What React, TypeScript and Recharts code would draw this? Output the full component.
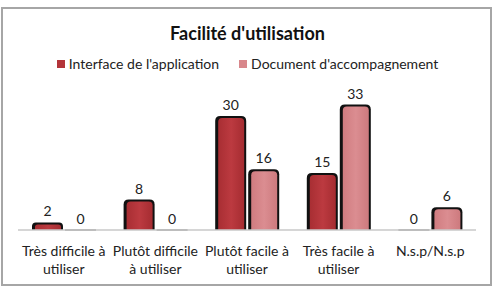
import React from 'react';
import { BarChart, Bar, XAxis, YAxis, LabelList } from 'recharts';

const categories = [
  'Très difficile à\nutiliser',
  'Plutôt difficile\nà utiliser',
  'Plutôt facile à\nutiliser',
  'Très facile à\nutiliser',
  'N.s.p/N.s.p',
];
const interfaceValues = [2, 8, 30, 15, 0];
const documentValues = [0, 0, 16, 33, 6];
const seriesNames = ["Interface de l'application", "Document d'accompagnement"];
const title = "Facilité d'utilisation";

const data = categories.map((c, i) => ({
  cat: c,
  iface: interfaceValues[i],
  doc: documentValues[i],
}));

const FONT = 'Lato, "Open Sans", sans-serif';
const RED = '#B3343A';
const PINK = '#D8878B';

const makeShape = (gradId: string) => (props: any) => {
  const { x, y, width, height } = props;
  if (!height || height <= 0) {
    return <rect x={x} y={y - 1} width={width} height={2} fill="#9a9a9a" />;
  }
  const r = Math.min(5, height / 2);
  const outer = `M${x},${y + height} L${x},${y + r} Q${x},${y} ${x + r},${y} L${x + width - r},${y} Q${x + width},${y} ${x + width},${y + r} L${x + width},${y + height} Z`;
  const ix = x + 3;
  const iw = width - 5;
  const iy = y + 2;
  const ih = height - 2;
  const ir = Math.min(4, ih / 2);
  const inner = `M${ix},${iy + ih} L${ix},${iy + ir} Q${ix},${iy} ${ix + ir},${iy} L${ix + iw - ir},${iy} Q${ix + iw},${iy} ${ix + iw},${iy + ir} L${ix + iw},${iy + ih} Z`;
  return (
    <g>
      <path d={outer} fill="#111" />
      <path d={inner} fill={`url(#${gradId})`} />
    </g>
  );
};

const Tick = (props: any) => {
  const { x, y, payload } = props;
  const lines = String(payload.value).split('\n');
  return (
    <text x={x} y={y} textAnchor="middle" fontFamily={FONT} fontSize={14} fill="#222">
      {lines.map((l, i) => (
        <tspan key={i} x={x} y={y + 18 + i * 18}>{l}</tspan>
      ))}
    </text>
  );
};

const LegendBlock = () => (
  <div style={{ position: 'absolute', left: 0, top: 55, width: 495, display: 'flex', justifyContent: 'center', fontFamily: FONT, fontSize: 14, color: '#222' }}>
    {[RED, PINK].map((c, i) => (
      <div key={i} style={{ display: 'flex', alignItems: 'center', marginRight: i === 0 ? 20 : 0 }}>
        <span style={{ display: 'inline-block', width: 8, height: 8, background: c, marginRight: 4 }} />
        <span>{seriesNames[i]}</span>
      </div>
    ))}
  </div>
);

export default function App() {
  return (
    <div style={{ position: 'absolute', left: 0, top: 0, width: 495, height: 286, background: '#fff' }}>
      <div style={{ position: 'absolute', left: 1, top: 7, width: 487, height: 275, border: '2px solid #a6a6a6' }} />
      <div style={{ position: 'absolute', left: 0, top: 22, width: 495, textAlign: 'center', fontFamily: FONT, fontWeight: 700, fontSize: 18, color: '#111' }}>
        {title}
      </div>
      <LegendBlock />
      <div style={{ position: 'absolute', left: 0, top: 0 }}>
        <BarChart
          width={495}
          height={286}
          data={data}
          margin={{ top: 97, right: 19, left: 18, bottom: 0 }}
          barSize={31}
          barGap={2}
        >
          <defs>
            <linearGradient id="gRed" x1="0" y1="0" x2="1" y2="0">
              <stop offset="0%" stopColor="#A82E33" />
              <stop offset="50%" stopColor="#BC3A40" />
              <stop offset="100%" stopColor="#A52C31" />
            </linearGradient>
            <linearGradient id="gPink" x1="0" y1="0" x2="1" y2="0">
              <stop offset="0%" stopColor="#D07C80" />
              <stop offset="50%" stopColor="#DB8D91" />
              <stop offset="100%" stopColor="#CD7A7E" />
            </linearGradient>
          </defs>
          <XAxis
            dataKey="cat"
            height={56}
            interval={0}
            tickLine={false}
            axisLine={{ stroke: '#c8c8c8', strokeWidth: 1.5 }}
            tick={<Tick />}
          />
          <YAxis hide domain={[0, 35]} />
          <Bar dataKey="iface" name={seriesNames[0]} fill={RED} shape={makeShape('gRed')} isAnimationActive={false}>
            <LabelList dataKey="iface" position="top" offset={6} fontFamily={FONT} fontSize={14} fill="#222" />
          </Bar>
          <Bar dataKey="doc" name={seriesNames[1]} fill={PINK} shape={makeShape('gPink')} isAnimationActive={false}>
            <LabelList dataKey="doc" position="top" offset={6} fontFamily={FONT} fontSize={14} fill="#222" />
          </Bar>
        </BarChart>
      </div>
    </div>
  );
}
